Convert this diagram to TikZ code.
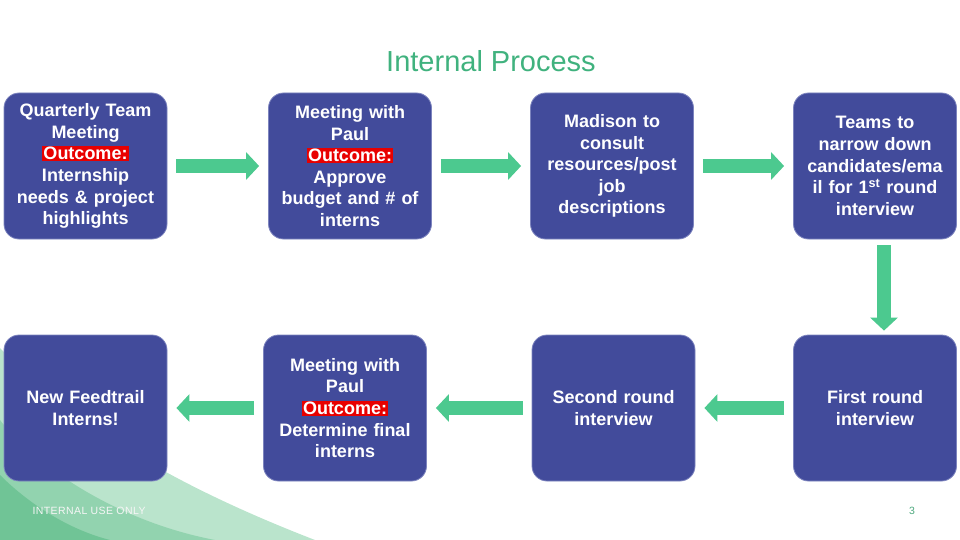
\documentclass[tikz,border=0pt]{standalone}
\usepackage{fontspec}
\setmainfont{Liberation Sans}
\usepackage{tikz}
\usetikzlibrary{arrows.meta,positioning}

\definecolor{boxblue}{RGB}{66,75,155}
\definecolor{boxline}{RGB}{125,132,190}
\definecolor{flowgreen}{RGB}{76,201,143}
\definecolor{titlegreen}{RGB}{64,178,126}
\definecolor{outred}{RGB}{232,0,0}
\definecolor{waveA}{RGB}{186,228,204}
\definecolor{waveB}{RGB}{146,211,175}
\definecolor{waveC}{RGB}{112,196,150}

\newcommand{\outc}{{\setlength{\fboxsep}{1pt}\colorbox{outred}{Outcome:}}}

\begin{document}
\begin{tikzpicture}[
  x=1pt, y=-1pt,
  stage/.style={rectangle, rounded corners=15pt, draw=boxline, line width=0.8pt, fill=boxblue,
    text=white, minimum width=163pt, minimum height=146pt, text width=160pt, inner sep=0pt,
    align=center, font=\bfseries\fontsize{18}{21.6}\selectfont},
  flow/.style={draw=flowgreen, line width=14pt, shorten <=9pt, shorten >=9pt,
    -{Triangle[width=27pt, length=13pt]}},
]
  \useasboundingbox (0,0) rectangle (960,540);

  % Background wave
  \fill[waveA] (0,348) .. controls (70,420) and (160,480) .. (315,540) -- (0,540) -- cycle;
  \fill[waveB] (0,420) .. controls (30,460) and (110,520) .. (215,540) -- (0,540) -- cycle;
  \fill[waveC] (0,475) .. controls (30,505) and (70,530) .. (110,540) -- (0,540) -- cycle;

  \node[font=\fontsize{29}{34}\selectfont, text=titlegreen] (title) at (491,61) {Internal Process};

  % Top row
  \node[stage] (quarter) at (85.5,166) {Quarterly Team\\Meeting\\\outc\\Internship\\needs \& project\\highlights};
  \node[stage] (paulA)   at (350,166)  {Meeting with\\Paul\\\outc\\Approve\\budget and \# of\\interns};
  \node[stage] (madison) at (612,166)  {Madison to\\consult\\resources/post\\job\\descriptions};
  \node[stage] (narrow)  at (875,166)  {Teams to\\narrow down\\candidates/ema\\il for 1\textsuperscript{st} round\\interview};

  % Bottom row
  \node[stage] (newint) at (85.5,408) {New Feedtrail\\Interns!};
  \node[stage] (paulB)  at (345,408)  {Meeting with\\Paul\\\outc\\Determine final\\interns};
  \node[stage] (second) at (613.5,408) {Second round\\interview};
  \node[stage] (first)  at (875,408)  {First round\\interview};

  % Flow arrows
  \draw[flow] (quarter) -- (paulA);
  \draw[flow] (paulA) -- (madison);
  \draw[flow] (madison) -- (narrow);
  \draw[flow, shorten <=6pt, shorten >=4pt] ([xshift=9pt]narrow.south) -- ([xshift=9pt]first.north);
  \draw[flow] (first) -- (second);
  \draw[flow] (second) -- (paulB);
  \draw[flow] (paulB) -- (newint);

  % Footer
  \node[font=\fontsize{10.5}{12}\selectfont\addfontfeature{LetterSpace=4}, text=white!93!gray, anchor=west] (footer) at (29,511) {INTERNAL USE ONLY};
  \node[font=\fontsize{10.5}{12}\selectfont, text=titlegreen!80!gray] (pagenum) at (912,511) {3};
\end{tikzpicture}
\end{document}
